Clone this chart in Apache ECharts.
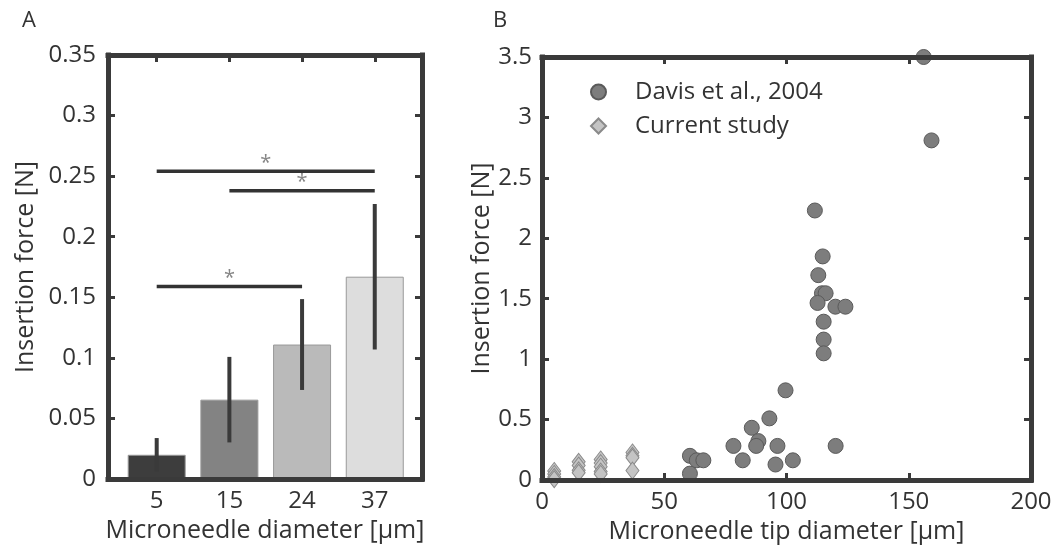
<!DOCTYPE html>
<html>
<head>
<meta charset="utf-8">
<script src="https://cdn.jsdelivr.net/npm/echarts@6/dist/echarts.min.js"></script>
<style>
  html, body { margin: 0; padding: 0; background: #fff; }
  #chart { width: 1057px; height: 554px; }
</style>
</head>
<body>
<div id="chart"></div>
<script>
// panel A: bar chart
var diameters = ['5', '15', '24', '37'];
var meanForce = [0.020, 0.0655, 0.111, 0.167];
var sdForce = [0.0138, 0.0353, 0.0375, 0.060];
// significance bars: [from bar, to bar, height]
var sigPairs = [[1, 4, 0.254], [2, 4, 0.238], [1, 3, 0.159]];

// panel B: scatter
var davisX = [156.1, 159.3, 111.6, 114.8, 113.0, 114.5, 116.0, 112.7, 120.0, 124.1, 115.2, 115.2, 115.2,
  99.6, 93.0, 85.8, 88.5, 87.6, 78.3, 96.3, 120.1, 82.1, 95.5, 102.6, 60.5, 63.3, 66.0, 60.5];
var davisY = [3.50, 2.81, 2.23, 1.85, 1.695, 1.545, 1.545, 1.465, 1.434, 1.434, 1.31, 1.162, 1.048,
  0.742, 0.51, 0.432, 0.322, 0.282, 0.282, 0.282, 0.282, 0.163, 0.128, 0.163, 0.20, 0.163, 0.163, 0.053];
var currentX = [5, 5, 5, 5, 15, 15, 15, 15, 24, 24, 24, 24, 24, 37, 37, 37, 37];
var currentY = [0.075, 0.05, 0.025, 0.006, 0.15, 0.12, 0.08, 0.06, 0.17, 0.14, 0.11, 0.07, 0.05, 0.228, 0.20, 0.185, 0.078];

var barColors = ['#3d3d3d', '#838383', '#bababa', '#dddddd'];
var frame = '#3a3a3a';
var font = 'Open Sans';

function frameAxis(extra) {
  var base = {
    axisLine: { show: true, onZero: false, lineStyle: { color: frame, width: 5, cap: 'square' } },
    axisTick: { show: true, inside: true, length: 7, lineStyle: { color: frame, width: 3 } },
    axisLabel: { show: false },
    splitLine: { show: false },
    z: 10
  };
  return Object.assign(base, extra);
}

var labelStyle = { show: true, color: '#333', fontSize: 24, fontFamily: font };
var nameStyle = { color: '#333', fontSize: 25, fontFamily: font };

var option = {
  animation: false,
  backgroundColor: '#fff',
  title: [
    { text: 'A', left: 17, top: 5, textStyle: { fontSize: 22, fontWeight: 'normal', color: '#333', fontFamily: font } },
    { text: 'B', left: 488, top: 5, textStyle: { fontSize: 22, fontWeight: 'normal', color: '#333', fontFamily: font } }
  ],
  grid: [
    { left: 108, top: 55, right: 635, bottom: 75 },
    { left: 542, top: 57, right: 26, bottom: 74 }
  ],
  legend: {
    orient: 'vertical',
    left: 585, top: 75,
    itemWidth: 15, itemHeight: 15, itemGap: 10,
    data: ['Davis et al., 2004', 'Current study'],
    textStyle: { color: '#333', fontSize: 24, fontFamily: font, padding: [0, 0, 0, 24] }
  },
  xAxis: [
    frameAxis({
      type: 'value', gridIndex: 0, position: 'bottom', min: 0.33, max: 4.65,
      axisTick: { show: false },
      axisLabel: Object.assign({}, labelStyle, {
        margin: 10,
        customValues: [1, 2, 3, 4],
        formatter: function (v) { return diameters[Math.round(v) - 1]; }
      }),
      name: 'Microneedle diameter [\u03bcm]', nameLocation: 'middle', nameGap: 37, nameTextStyle: nameStyle
    }),
    frameAxis({
      type: 'value', gridIndex: 0, position: 'top', min: 0.33, max: 4.65,
      axisTick: { show: true, inside: true, length: 7, customValues: [1, 2, 3, 4], lineStyle: { color: frame, width: 3 } }
    }),
    frameAxis({
      type: 'value', gridIndex: 1, position: 'bottom', min: 0, max: 200, interval: 50,
      axisLabel: Object.assign({}, labelStyle, { margin: 10 }),
      name: 'Microneedle tip diameter [\u03bcm]', nameLocation: 'middle', nameGap: 37, nameTextStyle: nameStyle
    }),
    frameAxis({ type: 'value', gridIndex: 1, position: 'top', min: 0, max: 200, interval: 50 })
  ],
  yAxis: [
    frameAxis({
      type: 'value', gridIndex: 0, position: 'left', min: 0, max: 0.35, interval: 0.05,
      axisLabel: Object.assign({}, labelStyle, { margin: 12 }),
      name: 'Insertion force [N]', nameLocation: 'middle', nameGap: 70, nameTextStyle: nameStyle
    }),
    frameAxis({ type: 'value', gridIndex: 0, position: 'right', min: 0, max: 0.35, interval: 0.05 }),
    frameAxis({
      type: 'value', gridIndex: 1, position: 'left', min: 0, max: 3.5, interval: 0.5,
      axisLabel: Object.assign({}, labelStyle, { margin: 10 }),
      name: 'Insertion force [N]', nameLocation: 'middle', nameGap: 42, nameTextStyle: nameStyle
    }),
    frameAxis({ type: 'value', gridIndex: 1, position: 'right', min: 0, max: 3.5, interval: 0.5 })
  ],
  series: []
};

// bars
option.series.push({
  type: 'bar', xAxisIndex: 0, yAxisIndex: 0, barWidth: 58,
  data: meanForce.map(function (m, i) {
    return { value: [i + 1, m], itemStyle: { color: barColors[i], borderColor: '#999', borderWidth: 1 } };
  })
});

// error bars
option.series.push({
  type: 'custom', xAxisIndex: 0, yAxisIndex: 0, z: 5,
  data: meanForce.map(function (m, i) { return [i + 1, m, sdForce[i]]; }),
  renderItem: function (params, api) {
    var x = api.value(0), m = api.value(1), e = api.value(2);
    var p1 = api.coord([x, m - e]), p2 = api.coord([x, m + e]);
    return { type: 'line', shape: { x1: p1[0], y1: p1[1], x2: p2[0], y2: p2[1] }, style: { stroke: '#3a3a3a', lineWidth: 4 } };
  }
});

// significance lines + stars
sigPairs.forEach(function (p) {
  option.series.push({
    type: 'line', xAxisIndex: 0, yAxisIndex: 0, symbol: 'none', z: 5,
    lineStyle: { color: '#333', width: 3.5 },
    data: [[p[0], p[2]], [p[1], p[2]]]
  });
});
option.series.push({
  type: 'scatter', xAxisIndex: 0, yAxisIndex: 0, symbolSize: 1, z: 5,
  itemStyle: { color: 'rgba(0,0,0,0)' },
  label: { show: true, position: 'top', distance: -2, formatter: '*', color: '#666', fontSize: 20, fontFamily: font },
  data: sigPairs.map(function (p) { return [(p[0] + p[1]) / 2, p[2]]; })
});

// scatter
option.series.push({
  name: 'Davis et al., 2004', type: 'scatter', xAxisIndex: 2, yAxisIndex: 2, clip: false,
  symbol: 'circle', symbolSize: 15,
  itemStyle: { color: '#7d7d7d', borderColor: '#5a5a5a', borderWidth: 1, opacity: 1 },
  data: davisX.map(function (x, i) { return [x, davisY[i]]; })
});
option.series.push({
  name: 'Current study', type: 'scatter', xAxisIndex: 2, yAxisIndex: 2, clip: false,
  symbol: 'diamond', symbolSize: [13, 17],
  itemStyle: { color: '#c4c4c4', borderColor: '#8a8a8a', borderWidth: 1, opacity: 1 },
  data: currentX.map(function (x, i) { return [x, currentY[i]]; })
});

var chart = echarts.init(document.getElementById('chart'));
chart.setOption(option);
</script>
</body>
</html>
